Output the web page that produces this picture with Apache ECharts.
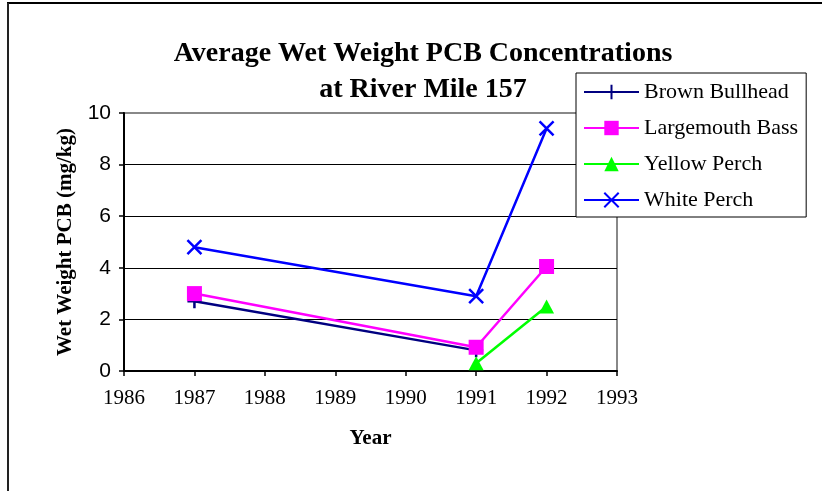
<!DOCTYPE html>
<html>
<head>
<meta charset="utf-8">
<script src="https://cdn.jsdelivr.net/npm/echarts@6/dist/echarts.min.js"></script>
<style>html,body{margin:0;padding:0;background:#fff}#c{width:822px;height:491px}</style>
</head>
<body>
<div id="c"></div>
<script>
var titleLines = ['Average Wet Weight PCB Concentrations', 'at River Mile 157'];
var xAxisName = 'Year';
var yAxisName = 'Wet Weight PCB (mg/kg)';
var xMin = 1986, xMax = 1993, xStep = 1;
var yMin = 0, yMax = 10, yStep = 2;

var seriesNames = ['Brown Bullhead', 'Largemouth Bass', 'Yellow Perch', 'White Perch'];
var bullheadYears = [1987, 1991];
var bullheadValues = [2.7, 0.8];
var bassYears = [1987, 1991, 1992];
var bassValues = [3.0, 0.92, 4.05];
var yellowYears = [1991, 1992];
var yellowValues = [0.3, 2.5];
var whiteYears = [1987, 1991, 1992];
var whiteValues = [4.8, 2.9, 9.4];

function pairs(xs, ys) { return xs.map(function (x, i) { return [x, ys[i]]; }); }

var serif = '"Liberation Serif", "Times New Roman", serif';
var sans = '"Liberation Sans", Arial, sans-serif';

var chart = echarts.init(document.getElementById('c'), null, {renderer: 'canvas'});
chart.setOption({
  animation: false,
  backgroundColor: '#fff',
  title: {
    text: titleLines.join('\n'),
    left: 418, top: 31, textAlign: 'center',
    textStyle: {fontFamily: serif, fontSize: 28, fontWeight: 'bold', color: '#000', lineHeight: 36}
  },
  graphic: [
    {type: 'line', shape: {x1: 7, y1: 3, x2: 822, y2: 3}, style: {stroke: '#000', lineWidth: 2}, z: 100},
    {type: 'line', shape: {x1: 8, y1: 3, x2: 8, y2: 491}, style: {stroke: '#222', lineWidth: 2}, z: 100}
  ],
  legend: {
    orient: 'vertical', left: 576, top: 73,
    data: seriesNames,
    itemWidth: 55, itemHeight: 18, itemGap: 12,
    padding: [7, 8, 5, 7],
    borderColor: '#000', borderWidth: 1, backgroundColor: '#fff',
    textStyle: {fontFamily: serif, fontSize: 22, color: '#000', lineHeight: 24}
  },
  grid: {left: 124, right: 205, top: 113, bottom: 120, show: true, borderColor: '#888', borderWidth: 2, backgroundColor: 'transparent'},
  xAxis: {
    type: 'value', min: xMin, max: xMax, interval: xStep,
    name: xAxisName, nameLocation: 'middle', nameGap: 57,
    nameTextStyle: {fontFamily: serif, fontSize: 21, fontWeight: 'bold', color: '#000'},
    axisLine: {show: true, lineStyle: {color: '#000', width: 2}},
    axisTick: {show: true, inside: false, length: 5, lineStyle: {color: '#000', width: 1.5}},
    axisLabel: {fontFamily: serif, fontSize: 21, color: '#000', margin: 17, formatter: function (v) { return String(v); }},
    splitLine: {show: false}
  },
  yAxis: {
    type: 'value', min: yMin, max: yMax, interval: yStep,
    name: yAxisName, nameLocation: 'middle', nameGap: 48, nameRotate: 90,
    nameTextStyle: {fontFamily: serif, fontSize: 21, fontWeight: 'bold', color: '#000'},
    axisLine: {show: true, lineStyle: {color: '#000', width: 2}},
    axisTick: {show: true, inside: false, length: 5, lineStyle: {color: '#000', width: 1.5}},
    axisLabel: {fontFamily: sans, fontSize: 21, color: '#000', margin: 13},
    splitLine: {show: true, lineStyle: {color: ['#000', '#000', '#000', '#000', '#000', '#888'], width: 1}}
  },
  series: [
    {
      name: seriesNames[0], type: 'line', data: pairs(bullheadYears, bullheadValues),
      symbol: 'path://M5,0L5,10M0,5L10,5', symbolSize: 14,
      lineStyle: {color: '#000080', width: 2.5},
      itemStyle: {color: '#000080', borderColor: '#000080', borderWidth: 2.5}
    },
    {
      name: seriesNames[1], type: 'line', data: pairs(bassYears, bassValues),
      symbol: 'rect', symbolSize: 15,
      lineStyle: {color: '#FF00FF', width: 2.5},
      itemStyle: {color: '#FF00FF', borderColor: '#FF00FF', borderWidth: 0}
    },
    {
      name: seriesNames[2], type: 'line', data: pairs(yellowYears, yellowValues),
      symbol: 'triangle', symbolSize: [15, 14],
      lineStyle: {color: '#00FF00', width: 2.5},
      itemStyle: {color: '#00FF00', borderColor: '#00FF00', borderWidth: 0}
    },
    {
      name: seriesNames[3], type: 'line', data: pairs(whiteYears, whiteValues),
      symbol: 'path://M0,0L10,10M10,0L0,10', symbolSize: 14,
      lineStyle: {color: '#0000FF', width: 2.5},
      itemStyle: {color: '#0000FF', borderColor: '#0000FF', borderWidth: 2.5}
    }
  ]
});
</script>
</body>
</html>
